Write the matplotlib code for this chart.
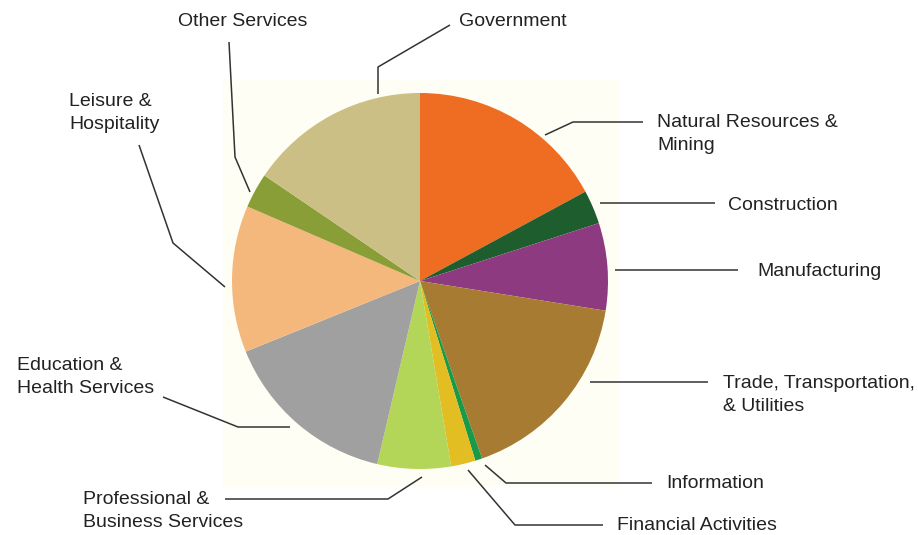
import numpy as np
import matplotlib
matplotlib.use("Agg")
import matplotlib.pyplot as plt
from matplotlib.patches import Rectangle

# share of total (percent), clockwise from 12 o'clock
sectors = ["Natural Resources &\nMining", "Construction", "Manufacturing",
           "Trade, Transportation,\n& Utilities", "Information", "Financial Activities",
           "Professional &\nBusiness Services", "Education &\nHealth Services",
           "Leisure &\nHospitality", "Other Services", "Government"]
shares = [17.1, 2.9, 7.5, 17.1, 0.6, 2.1, 6.3, 15.2, 12.6, 3.0, 15.5]
colors = ["#ef6c23", "#1e5e2e", "#8e3a80", "#a77b32", "#1a9a48", "#e2be22",
          "#b3d658", "#a0a0a0", "#f5b87c", "#8a9e38", "#cbbf86"]

# label layout in pixels from the top-left corner: text anchor + leader polyline
label_xy = [(657, 134), (728, 206), (757, 271), (723, 395), (666, 483), (617, 525),
            (83, 511), (17, 377), (69, 113), (178, 22), (459, 22)]
leaders = [
    [(545, 135), (573, 122), (643, 122)],
    [(600, 203), (715, 203)],
    [(615, 270), (738, 270)],
    [(590, 382), (708, 382)],
    [(485, 465), (506, 483), (652, 483)],
    [(468, 470), (515, 525), (603, 525)],
    [(422, 477), (388, 499), (225, 499)],
    [(290, 427), (238, 427), (163, 397)],
    [(225, 287), (173, 243), (139, 145)],
    [(250, 192), (235, 157), (229, 42)],
    [(378, 94), (378, 67), (450, 25)],
]

W, H = 918, 535
plt.rcParams['font.family'] = ['Liberation Sans', 'DejaVu Sans']

fig = plt.figure(figsize=(W / 100, H / 100), dpi=100)
ax = fig.add_axes([0, 0, 1, 1])

# cream panel behind the pie
ax.add_patch(Rectangle((223, H - 487), 620 - 223, 487 - 80, facecolor="#fefef4",
                       edgecolor="none", zorder=0))

ax.pie(shares, colors=colors, startangle=90, counterclock=False,
       center=(420, H - 281), radius=188, frame=True,
       wedgeprops=dict(linewidth=0, zorder=1))
ax.set_xlim(0, W)
ax.set_ylim(0, H)
ax.set_aspect("equal")
ax.axis("off")

for name, (tx, ty), pts in zip(sectors, label_xy, leaders):
    xs = [p[0] for p in pts]
    ys = [H - p[1] for p in pts]
    ax.plot(xs, ys, color="#333333", lw=1.1, zorder=3, solid_capstyle="butt")
    ax.text(tx, H - ty, name, ha="left", va="center", fontsize=14,
            color="#222222", linespacing=1.5, zorder=4)

fig.savefig("out.png", dpi=100)
